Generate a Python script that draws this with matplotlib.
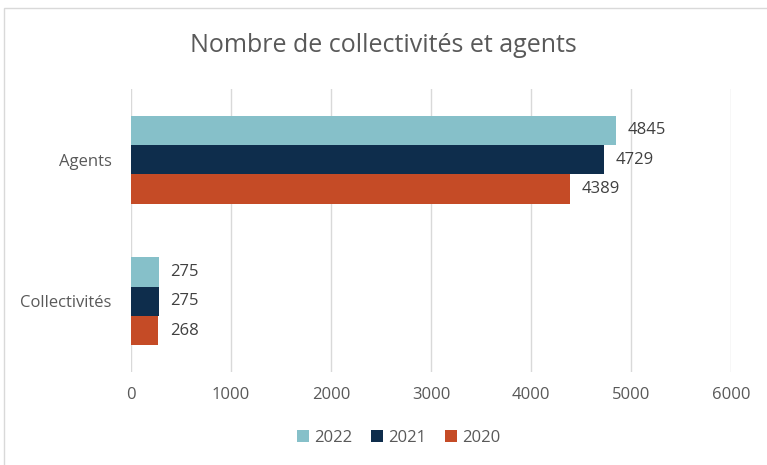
import numpy as np
import matplotlib.pyplot as plt
from matplotlib.patches import Rectangle

categories = ['Collectivités', 'Agents']
years = ['2022', '2021', '2020']
values = {
    '2022': [275, 4845],
    '2021': [275, 4729],
    '2020': [268, 4389],
}
colors = {'2022': '#86C0C9', '2021': '#0E2D4C', '2020': '#C54B26'}
xticks = [0, 1000, 2000, 3000, 4000, 5000, 6000]

plt.rcParams['font.family'] = ['Open Sans', 'DejaVu Sans']
txt = '#595959'

fig = plt.figure(figsize=(7.67, 4.65), dpi=100)
fig.patches.append(Rectangle((4 / 767, -0.1), 1.2, (465 - 8) / 465 + 0.1,
                             transform=fig.transFigure, fill=False,
                             edgecolor='#D9D9D9', linewidth=1))
ax = fig.add_axes([131 / 767, 1 - 372 / 465, 600 / 767, 283 / 465])

h = 0.208
y = np.arange(len(categories))
offsets = {'2022': h, '2021': 0, '2020': -h}
for yr in years:
    bars = ax.barh(y + offsets[yr], values[yr], height=h, color=colors[yr],
                   label=yr, zorder=3)
    for b, v in zip(bars, values[yr]):
        ax.text(b.get_width() + 120, b.get_y() + h / 2, str(v), va='center',
                ha='left', fontsize=12, color='#404040')

ax.set_xlim(0, 6000)
ax.set_ylim(-0.5, 1.5)
ax.set_xticks(xticks)
ax.set_xticklabels([str(t) for t in xticks], fontsize=12, color=txt)
ax.set_yticks(y)
ax.set_yticklabels(categories, fontsize=12, color=txt)
ax.tick_params(length=0)
ax.tick_params(axis='y', pad=14)
ax.tick_params(axis='x', pad=11)
ax.grid(axis='x', color='#D9D9D9', linewidth=1, zorder=0)
for s in ax.spines.values():
    s.set_visible(False)

fig.text(0.5, 1 - 46 / 465, 'Nombre de collectivités et agents', ha='center',
         va='center', fontsize=18, color=txt)
fig.legend(loc='center', bbox_to_anchor=(0.52, 1 - 438 / 465), ncol=3,
           frameon=False, fontsize=12, handlelength=0.7, handleheight=0.7,
           handletextpad=0.35, columnspacing=1.1, labelcolor=txt)

fig.savefig('out.png', dpi=100)
